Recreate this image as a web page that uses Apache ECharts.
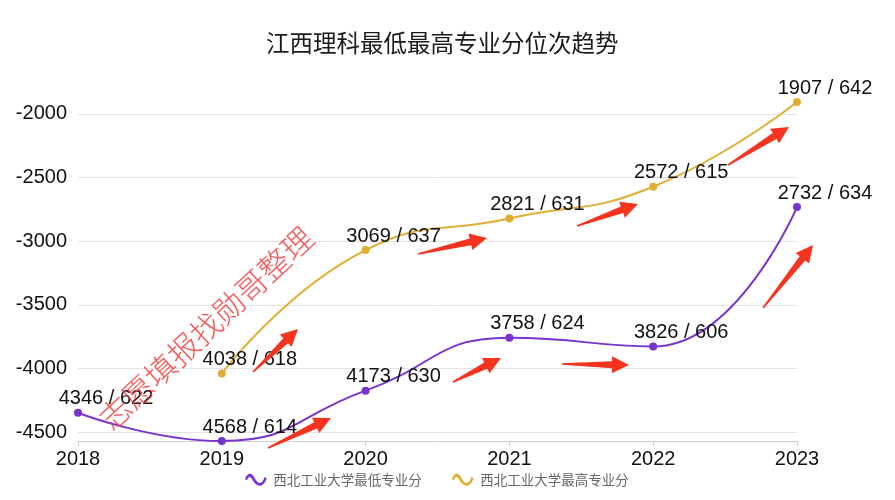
<!DOCTYPE html>
<html>
<head>
<meta charset="utf-8">
<script src="https://cdn.jsdelivr.net/npm/echarts@6/dist/echarts.min.js"></script>
<style>html,body{margin:0;padding:0;background:#fff}#c{width:895px;height:500px}</style>
</head>
<body>
<div id="c"></div>
<script>
var years = ['2018', '2019', '2020', '2021', '2022', '2023'];
var lowRank = [4346, 4568, 4173, 3758, 3826, 2732];
var lowScore = [622, 614, 630, 624, 606, 634];
var highRank = [null, 4038, 3069, 2821, 2572, 1907];
var highScore = [null, 618, 637, 631, 615, 642];
var lowName = '西北工业大学最低专业分';
var highName = '西北工业大学最高专业分';
var titleText = '江西理科最低最高专业分位次趋势';
var watermark = '志愿填报找勋哥整理';

var FONT = '"Liberation Sans", Arial, "Noto Sans CJK SC", sans-serif';
var CJK = '"Noto Sans CJK SC", "Liberation Sans", sans-serif';
var PURPLE = '#7b33cf';
var GOLD = '#e2ad33';
var RED = '#f5341f';

function neg(arr) { return arr.map(function (v) { return v == null ? null : -v; }); }

function arrowShape(x1, y1, x2, y2) {
  var dx = x2 - x1, dy = y2 - y1, L = Math.sqrt(dx * dx + dy * dy);
  var ux = dx / L, uy = dy / L, nx = -uy, ny = ux;
  var hl = 17, sw = 7, hw = 17, tw = 1.5;
  var bx = x2 - ux * hl, by = y2 - uy * hl;
  return [
    [x1 + nx * tw / 2, y1 + ny * tw / 2],
    [bx + nx * sw / 2, by + ny * sw / 2],
    [bx + nx * hw / 2, by + ny * hw / 2],
    [x2, y2],
    [bx - nx * hw / 2, by - ny * hw / 2],
    [bx - nx * sw / 2, by - ny * sw / 2],
    [x1 - nx * tw / 2, y1 - ny * tw / 2]
  ];
}
var arrows = [
  [268, 448, 331, 418],
  [253, 372, 298, 329],
  [418, 254, 487, 238],
  [453, 382, 501, 358],
  [577, 226, 638, 204],
  [562, 364, 629, 365],
  [728, 165, 789, 127],
  [763, 308, 813, 245]
];
var graphics = arrows.map(function (a) {
  return { type: 'polygon', z: 100, shape: { points: arrowShape(a[0], a[1], a[2], a[3]) }, style: { fill: RED } };
});
graphics.push({
  type: 'text', z: 101, x: 206, y: 328, rotation: 43 * Math.PI / 180,
  style: { text: watermark, fill: '#f43a3a', font: '300 31px ' + CJK, textAlign: 'center', textVerticalAlign: 'middle', opacity: 0.85 }
});

var wave = 'path://M0,7 C2,1 6,0 9,6 C12,12 16,12 18,5 L20,6 C17,15 11,15 7,8 C5,4 3,4 2,8 Z';

function mkLabel(scores, ranks) {
  return {
    show: true, position: 'top', offset: [28, 5], color: '#111', fontSize: 20, fontFamily: FONT,
    formatter: function (p) { return ranks[p.dataIndex] + ' / ' + scores[p.dataIndex]; }
  };
}

var chart = echarts.init(document.getElementById('c'), null, { renderer: 'canvas' });
chart.setOption({
  animation: false,
  backgroundColor: '#fff',
  title: { text: titleText, left: 261, top: 26, textStyle: { fontFamily: CJK, fontSize: 23.5, fontWeight: 'normal', color: '#1a1a1a' } },
  legend: {
    left: 240, top: 468, itemWidth: 25, itemHeight: 12, itemGap: 30,
    textStyle: { fontFamily: CJK, fontSize: 13.5, color: '#666' },
    data: [{ name: lowName, icon: wave }, { name: highName, icon: wave }]
  },
  grid: { left: 78, right: 98, top: 102, bottom: 59, containLabel: false },
  xAxis: {
    type: 'category', data: years, boundaryGap: false,
    axisLine: { lineStyle: { color: '#ccc' } },
    axisTick: { show: true, length: 5, lineStyle: { color: '#ccc' } },
    axisLabel: { color: '#111', fontSize: 20, fontFamily: FONT, margin: 8 }
  },
  yAxis: {
    type: 'value', min: 'dataMin', max: 'dataMax', scale: true,
    axisLine: { show: false }, axisTick: { show: false },
    axisLabel: { color: '#111', fontSize: 20, fontFamily: FONT, margin: 11, showMinLabel: false, showMaxLabel: false,
      formatter: function (v) { return String(v); } },
    splitLine: { show: true, showMinLine: false, showMaxLine: false, lineStyle: { color: '#e3e3e3', width: 1 } }
  },
  series: [
    {
      name: lowName, type: 'line', smooth: true, data: neg(lowRank),
      symbol: 'circle', symbolSize: 8, color: PURPLE,
      lineStyle: { color: PURPLE, width: 2 }, itemStyle: { color: PURPLE },
      label: mkLabel(lowScore, lowRank)
    },
    {
      name: highName, type: 'line', smooth: true, data: neg(highRank), connectNulls: false,
      symbol: 'circle', symbolSize: 8, color: GOLD,
      lineStyle: { color: GOLD, width: 2 }, itemStyle: { color: GOLD },
      label: mkLabel(highScore, highRank)
    }
  ],
  graphic: graphics
});
</script>
</body>
</html>
